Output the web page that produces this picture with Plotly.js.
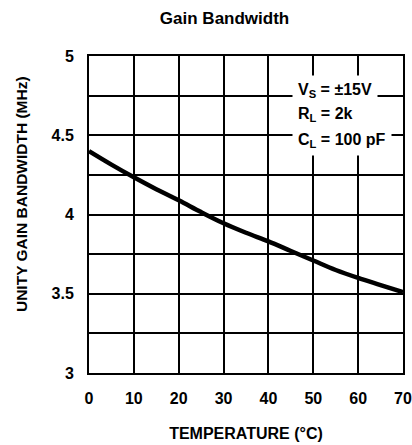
<!DOCTYPE html>
<html><head><meta charset="utf-8">
<script src="https://cdn.plot.ly/plotly-3.0.1.min.js"></script>
<style>html,body{margin:0;padding:0;background:#fff}</style>
</head><body><div id="chart" style="width:412px;height:445px"></div>
<script>
const temperature = [0, 5, 10, 15, 20, 25, 30, 35, 40, 45, 50, 55, 60, 65, 70];
const gainBandwidth = [4.40, 4.315, 4.235, 4.16, 4.09, 4.015, 3.945, 3.885, 3.83, 3.77, 3.71, 3.65, 3.60, 3.555, 3.51];
const xTicks = [0, 10, 20, 30, 40, 50, 60, 70];
const yTicks = [3, 3.5, 4, 4.5, 5];
const conditionLines = ["V<sub>S</sub> = ±15V", "R<sub>L</sub> = 2k", "C<sub>L</sub> = 100 pF"];
const conditionY = [4.785, 4.628, 4.47];

const boldFont = "'Liberation Sans', Arial, sans-serif";

const trace = {
  x: temperature, y: gainBandwidth, type: 'scatter', mode: 'lines',
  line: {color: '#000', width: 4.5, shape: 'spline'}, hoverinfo: 'skip'
};

const layout = {
  width: 412, height: 445,
  margin: {l: 89, r: 9, t: 56, b: 72},
  paper_bgcolor: '#fff', plot_bgcolor: '#fff',
  showlegend: false,
  title: {text: '<b>Gain Bandwidth</b>', x: 0.545, xanchor: 'center', y: 0.96, yanchor: 'middle',
          font: {family: boldFont, size: 17, color: '#000'}},
  xaxis: {
    range: [-0.001, 70.001], tickvals: xTicks, ticktext: xTicks.map(String),
    showgrid: true, gridcolor: '#000', gridwidth: 2,
    showline: true, linecolor: '#000', linewidth: 2, mirror: true,
    zeroline: false, ticks: '', ticklabelstandoff: 10, ticklabeloverflow: 'allow',
    tickfont: {family: boldFont, size: 16, color: '#000', weight: 'bold'},
    title: {text: '<b>TEMPERATURE (°C)</b>', standoff: 22,
            font: {family: boldFont, size: 16, color: '#000'}}
  },
  yaxis: {
    range: [3, 5], tickvals: yTicks, ticktext: yTicks.map(String),
    showgrid: true, gridcolor: '#000', gridwidth: 2,
    minor: {dtick: 0.25, showgrid: true, gridcolor: '#000', gridwidth: 2, ticks: ''},
    showline: true, linecolor: '#000', linewidth: 2, mirror: true,
    zeroline: false, ticks: '', ticklabelstandoff: 10,
    tickfont: {family: boldFont, size: 16, color: '#000', weight: 'bold'}
  },
  shapes: [{
    type: 'rect', xref: 'x', yref: 'y', x0: 46, x1: 63.5, y0: 4.375, y1: 4.867,
    fillcolor: '#fff', line: {width: 0}, layer: 'above'
  }],
  annotations: [{
    xref: 'paper', yref: 'paper', x: -0.213, y: 0.565, xanchor: 'center', yanchor: 'middle',
    textangle: -90, showarrow: false, text: '<b>UNITY GAIN BANDWIDTH (MHz)</b>',
    font: {family: boldFont, size: 15.5, color: '#000'}
  }].concat(conditionLines.map((s, i) => ({
    xref: 'x', yref: 'y', x: 45.2, y: conditionY[i], xanchor: 'left', yanchor: 'middle',
    text: '<b>' + s + '</b>',
    align: 'left', showarrow: false, bgcolor: '#fff', borderpad: 5,
    font: {family: boldFont, size: 16, color: '#000'}
  })))
};

Plotly.newPlot('chart', [trace], layout, {staticPlot: true, displayModeBar: false});
</script></body></html>
